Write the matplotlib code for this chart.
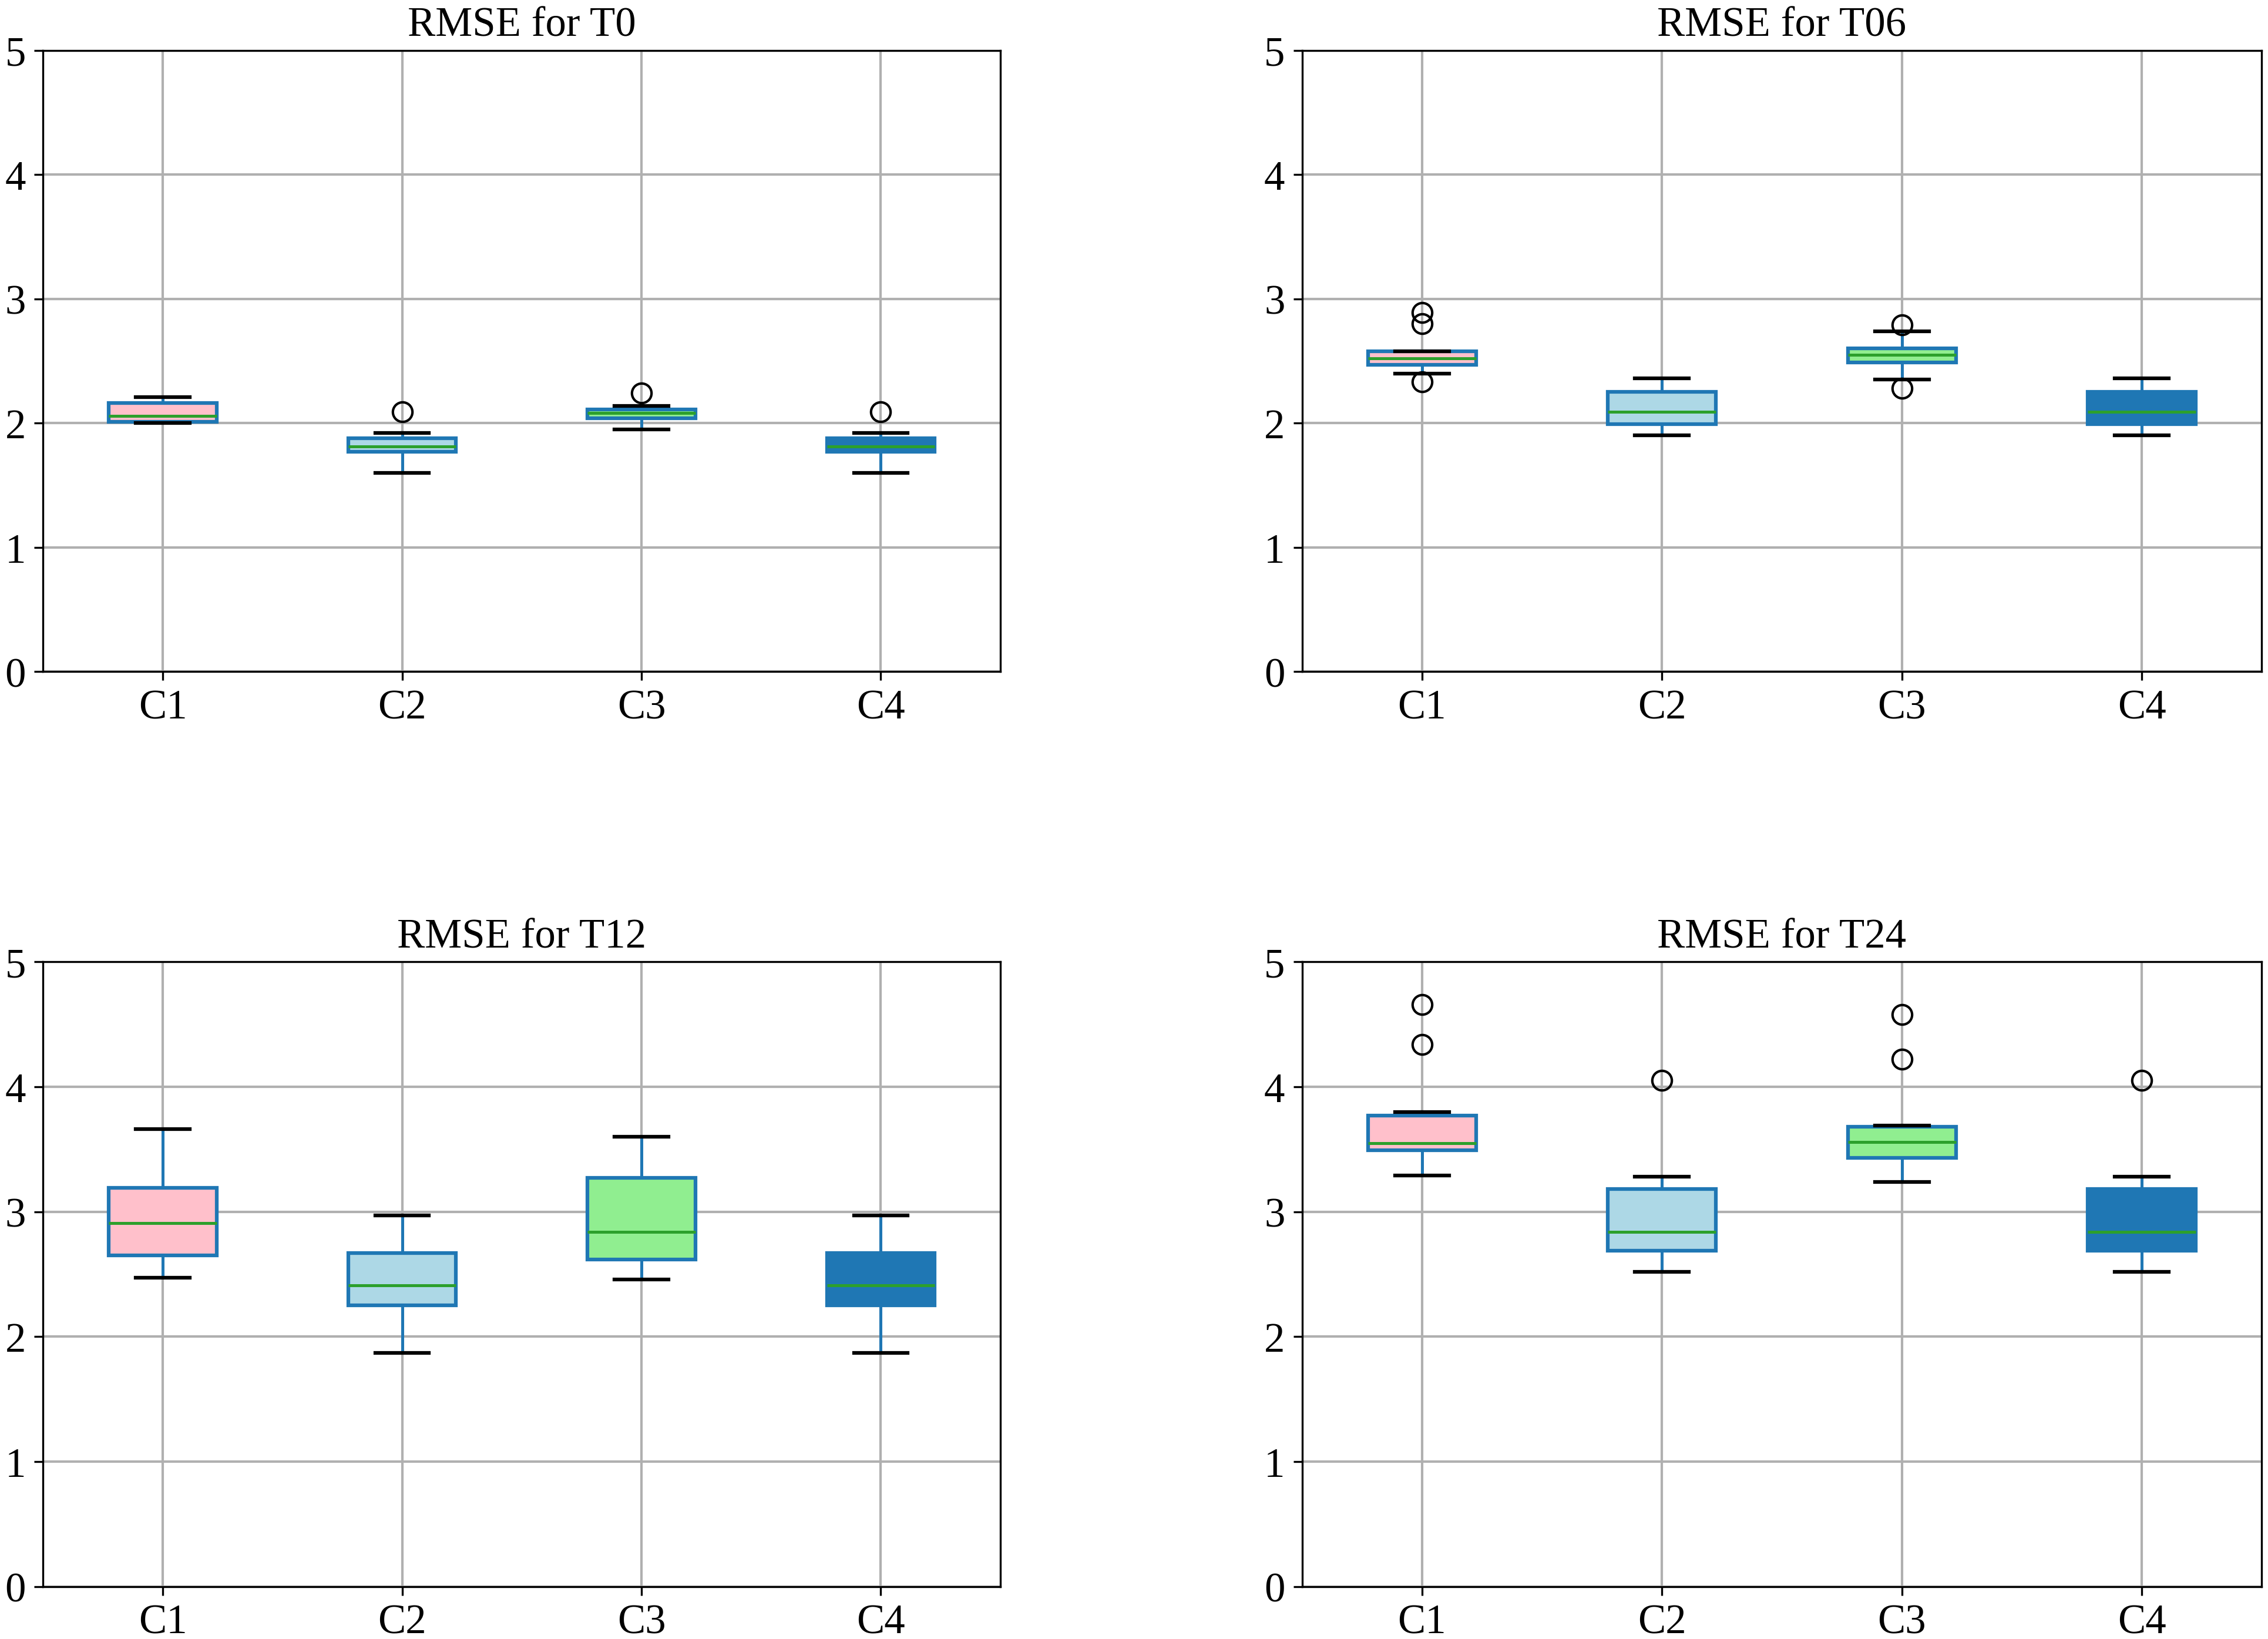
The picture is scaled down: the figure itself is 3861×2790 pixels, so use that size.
import numpy as np
import matplotlib.pyplot as plt

plt.rcParams['font.family'] = ['Liberation Serif', 'DejaVu Serif']

groups = ['C1', 'C2', 'C3', 'C4']
titles = ['RMSE for T0', 'RMSE for T06', 'RMSE for T12', 'RMSE for T24']
box_colors = ['pink', 'lightblue', 'lightgreen', '#1f77b4']

# box statistics: [C1, C2, C3, C4]
t0_q1 = [2.01, 1.77, 2.04, 1.77]
t0_med = [2.06, 1.81, 2.08, 1.81]
t0_q3 = [2.16, 1.88, 2.11, 1.88]
t0_lo = [2.00, 1.60, 1.95, 1.60]
t0_hi = [2.21, 1.92, 2.14, 1.92]
t0_fl = [[], [2.09], [2.24], [2.09]]

t06_q1 = [2.47, 1.99, 2.49, 1.99]
t06_med = [2.52, 2.09, 2.55, 2.09]
t06_q3 = [2.58, 2.25, 2.60, 2.25]
t06_lo = [2.40, 1.90, 2.35, 1.90]
t06_hi = [2.58, 2.36, 2.74, 2.36]
t06_fl = [[2.89, 2.80, 2.33], [], [2.79, 2.28], []]

t12_q1 = [2.65, 2.25, 2.62, 2.25]
t12_med = [2.91, 2.41, 2.84, 2.41]
t12_q3 = [3.19, 2.67, 3.27, 2.67]
t12_lo = [2.47, 1.87, 2.46, 1.87]
t12_hi = [3.66, 2.97, 3.60, 2.97]
t12_fl = [[], [], [], []]

t24_q1 = [3.49, 2.69, 3.43, 2.69]
t24_med = [3.55, 2.84, 3.56, 2.84]
t24_q3 = [3.77, 3.18, 3.68, 3.18]
t24_lo = [3.29, 2.52, 3.24, 2.52]
t24_hi = [3.80, 3.28, 3.69, 3.28]
t24_fl = [[4.66, 4.34], [4.05], [4.58, 4.22], [4.05]]

panels = [
    (t0_q1, t0_med, t0_q3, t0_lo, t0_hi, t0_fl),
    (t06_q1, t06_med, t06_q3, t06_lo, t06_hi, t06_fl),
    (t12_q1, t12_med, t12_q3, t12_lo, t12_hi, t12_fl),
    (t24_q1, t24_med, t24_q3, t24_lo, t24_hi, t24_fl),
]

fig = plt.figure(figsize=(12.873, 9.303), dpi=300)
rects = [
    [0.019, 0.590, 0.422, 0.379],
    [0.574, 0.590, 0.423, 0.379],
    [0.019, 0.032, 0.422, 0.381],
    [0.574, 0.032, 0.423, 0.381],
]

for rect, title, (q1, med, q3, lo, hi, fl) in zip(rects, titles, panels):
    ax = fig.add_axes(rect)
    stats = []
    for i in range(len(groups)):
        stats.append({'label': groups[i], 'q1': q1[i], 'med': med[i], 'q3': q3[i],
                      'whislo': lo[i], 'whishi': hi[i], 'fliers': fl[i]})
    bp = ax.bxp(stats, widths=0.45, patch_artist=True,
                boxprops=dict(edgecolor='#1f77b4', linewidth=1.5),
                whiskerprops=dict(color='#1f77b4', linewidth=1.2),
                capprops=dict(color='black', linewidth=1.5),
                medianprops=dict(color='#2ca02c', linewidth=1.2),
                flierprops=dict(marker='o', markerfacecolor='none',
                                markeredgecolor='black', markersize=8))
    for patch, col in zip(bp['boxes'], box_colors):
        patch.set_facecolor(col)
    ax.set_ylim(0, 5)
    ax.set_yticks(range(6))
    ax.grid(True, color='#b0b0b0', linewidth=1.0)
    ax.set_axisbelow(True)
    ax.set_title(title, fontsize=17)
    ax.tick_params(labelsize=17)

plt.savefig('out.png', dpi=300)
